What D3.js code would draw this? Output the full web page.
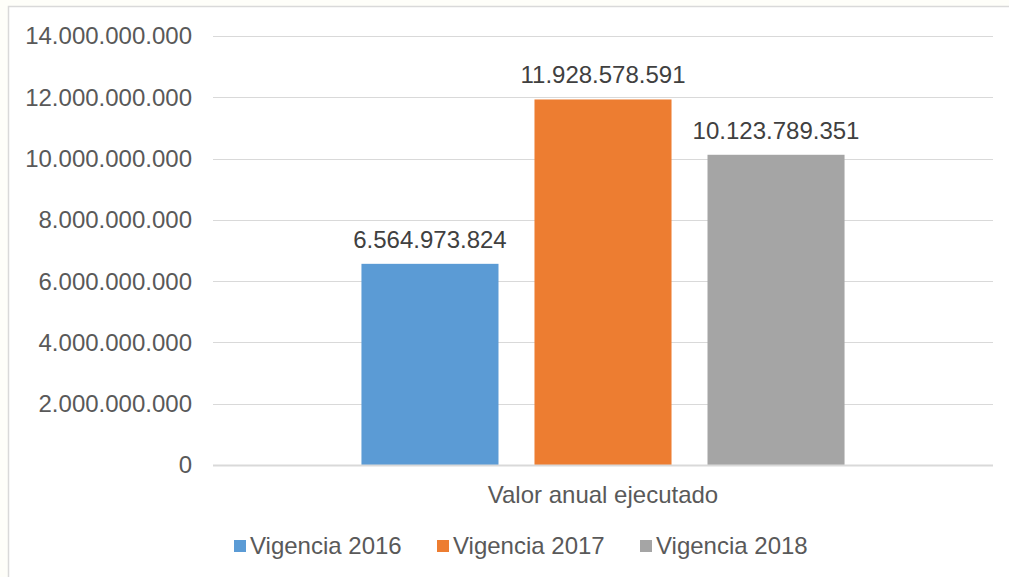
<!DOCTYPE html>
<html><head><meta charset="utf-8">
<script src="https://cdn.jsdelivr.net/npm/d3@7"></script>
<style>
html,body{margin:0;padding:0;background:#fefef9;}
text{font-family:"Liberation Sans",Arial,sans-serif;}
</style></head>
<body>
<svg id="c" width="1009" height="577"></svg>
<script>
const categories = ["Valor anual ejecutado"];
const series = ["Vigencia 2016", "Vigencia 2017", "Vigencia 2018"];
const values = [6564973824, 11928578591, 10123789351];
const colors = ["#5B9BD5", "#ED7D31", "#A5A5A5"];
const yTicks = [0, 2000000000, 4000000000, 6000000000, 8000000000, 10000000000, 12000000000, 14000000000];

(function () {
const loc = d3.formatLocale({decimal: ",", thousands: ".", grouping: [3], currency: ["$", ""]});
const fmt = loc.format(",d");
const fs = "24px";

const svg = d3.select("#c");
svg.append("rect").attr("x", 8.5).attr("y", 6.5).attr("width", 1010).attr("height", 590)
  .attr("fill", "#ffffff").attr("stroke", "#d9d9d9").attr("stroke-width", 1.5);

const pl = 213, pr = 993, pt = 36, pb = 465;
const y = d3.scaleLinear().domain([0, 14000000000]).range([pb, pt]);
const x0 = d3.scaleBand().domain(categories).range([pl, pr]).padding(0);
const x1 = d3.scaleBand().domain(series).range([0, x0.bandwidth()]).paddingInner(0.208).paddingOuter(0.858);

// gridlines
svg.append("g").selectAll("line").data(yTicks.filter(d => d > 0)).join("line")
  .attr("x1", pl).attr("x2", pr)
  .attr("y1", d => Math.round(y(d)) + 0.5).attr("y2", d => Math.round(y(d)) + 0.5)
  .attr("stroke", "#d9d9d9").attr("stroke-width", 1);

// y tick labels
svg.append("g").selectAll("text").data(yTicks).join("text")
  .attr("x", 192).attr("y", d => y(d)).attr("dy", "0.35em")
  .attr("text-anchor", "end").attr("font-size", fs).attr("fill", "#595959")
  .text(d => fmt(d));

// bars
const g = svg.append("g").selectAll("g").data(categories).join("g")
  .attr("transform", d => `translate(${x0(d)},0)`);
g.selectAll("rect").data(series.map((s, i) => ({s, v: values[i], c: colors[i]}))).join("rect")
  .attr("x", d => x1(d.s)).attr("width", x1.bandwidth())
  .attr("y", d => y(d.v)).attr("height", d => y(0) - y(d.v))
  .attr("fill", d => d.c);
g.selectAll("text.val").data(series.map((s, i) => ({s, v: values[i]}))).join("text")
  .attr("class", "val")
  .attr("x", d => x1(d.s) + x1.bandwidth() / 2).attr("y", d => y(d.v) - 16)
  .attr("text-anchor", "middle").attr("font-size", fs).attr("fill", "#404040")
  .text(d => fmt(d.v));

// axis line
svg.append("line").attr("x1", pl).attr("x2", pr).attr("y1", pb + 0.5).attr("y2", pb + 0.5)
  .attr("stroke", "#d9d9d9").attr("stroke-width", 2);

// category label
svg.append("g").selectAll("text").data(categories).join("text")
  .attr("x", d => x0(d) + x0.bandwidth() / 2).attr("y", 495).attr("dy", "0.35em")
  .attr("text-anchor", "middle").attr("font-size", fs).attr("fill", "#595959")
  .text(d => d);

// legend
const legX = [234, 437, 640];
const leg = svg.append("g").selectAll("g").data(series).join("g")
  .attr("transform", (d, i) => `translate(${legX[i]},546)`);
leg.append("rect").attr("x", 0).attr("y", -6).attr("width", 12).attr("height", 12)
  .attr("fill", (d, i) => colors[i]);
leg.append("text").attr("x", 16).attr("y", 0).attr("dy", "0.35em")
  .attr("font-size", fs).attr("fill", "#595959").text(d => d);
})();
</script>
</body></html>
